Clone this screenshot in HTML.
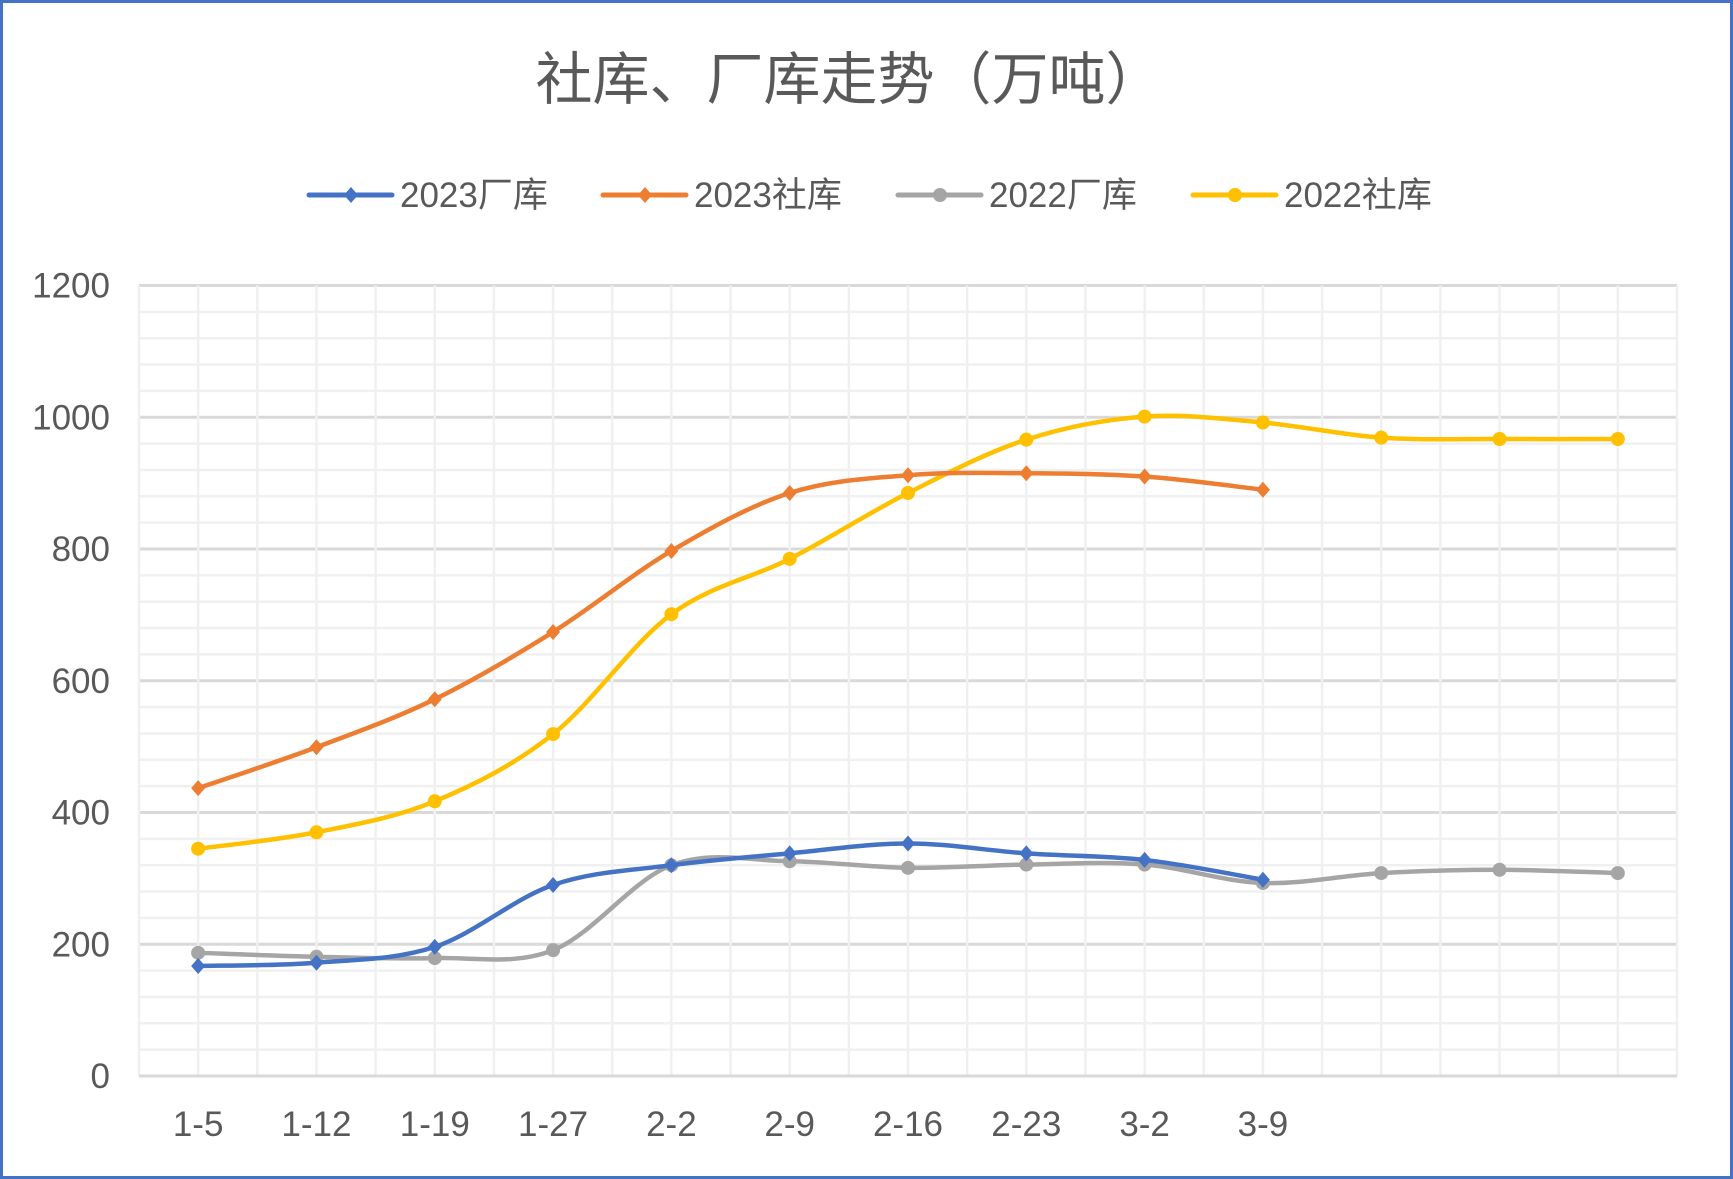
<!DOCTYPE html>
<html><head><meta charset="utf-8"><style>
html,body{margin:0;padding:0;background:#fff;}
svg{display:block;}
text{font-family:"Liberation Sans","Noto Sans CJK SC",sans-serif;fill:#595959;}
</style></head><body>
<svg id="chart" width="1733" height="1179" viewBox="0 0 1733 1179">
<rect x="1.5" y="1.5" width="1730" height="1176" fill="#fff" stroke="#4472C4" stroke-width="3"/>
<text x="849" y="99" font-size="57" text-anchor="middle">社库、厂库走势（万吨）</text>
<g id="grid"></g>
<g id="yaxis"></g>
<g id="xaxis"></g>
<g id="series"></g>
<g id="legend"></g>
</svg>
<script>
const categories = ["1-5","1-12","1-19","1-27","2-2","2-9","2-16","2-23","3-2","3-9","","",""];
const yTicks = [0,200,400,600,800,1000,1200];
const seriesNames = ["2023厂库","2023社库","2022厂库","2022社库"];
const factory2023 = [167,172,196,290,320,338,353,338,328,298];
const social2023 = [437,499,572,674,797,885,912,915,910,890];
const factory2022 = [187,181,179,191,320,326,316,321,321,293,308,313,308];
const social2022 = [345,370,417,519,701,785,885,966,1001,992,969,967,967];

const NS="http://www.w3.org/2000/svg";
const L=139,R=1677,T=285.5,B=1076,YMAX=1200;
const step=(R-L)/categories.length;
function xs(i){return L+step*(i+0.5);}
function ys(v){return B-(v/YMAX)*(B-T);}
function mk(tag,attrs,parent){const e=document.createElementNS(NS,tag);for(const k in attrs)e.setAttribute(k,attrs[k]);parent.appendChild(e);return e;}

const grid=document.getElementById('grid');
for(let v=0;v<=YMAX;v+=40){
  const major=v%200===0;
  const ln=mk('line',{x1:L,x2:R,y1:ys(v),y2:ys(v),stroke:major?'#d9d9d9':'#f0f0f0','stroke-width':major?3:2.5},grid);
  
  
}
for(let i=0;i<=categories.length*2;i++){
  const x=L+step*i/2;
  const ln=mk('line',{x1:x,x2:x,y1:T,y2:B,stroke:'#f0f0f0','stroke-width':2.5},grid);
  
  
}
const ax=mk('line',{x1:L,x2:R,y1:B,y2:B,stroke:'#d9d9d9','stroke-width':3},grid);



const ya=document.getElementById('yaxis');
yTicks.forEach(v=>{
  const t=mk('text',{x:110,y:ys(v)+12,'font-size':35,'text-anchor':'end'},ya);
  t.textContent=v;
  
  
});
const xa=document.getElementById('xaxis');
categories.forEach((c,i)=>{
  if(!c)return;
  const t=mk('text',{x:xs(i),y:1136,'font-size':35,'text-anchor':'middle'},xa);
  t.textContent=c;
  
  
});

function smooth(vals){
  const p=vals.map((v,i)=>[xs(i),ys(v)]);
  let d=`M${p[0][0]},${p[0][1]}`;
  for(let i=0;i<p.length-1;i++){
    const p0=p[i-1]||p[i],p1=p[i],p2=p[i+1],p3=p[i+2]||p[i+1];
    const c1=[p1[0]+(p2[0]-p0[0])/6,p1[1]+(p2[1]-p0[1])/6];
    const c2=[p2[0]-(p3[0]-p1[0])/6,p2[1]-(p3[1]-p1[1])/6];
    d+=` C${c1[0]},${c1[1]} ${c2[0]},${c2[1]} ${p2[0]},${p2[1]}`;
  }
  return d;
}
function marker(g,x,y,color,diamond){
  let m;
  if(diamond){m=mk('path',{d:`M${x},${y-8} L${x+7},${y} L${x},${y+8} L${x-7},${y} Z`,fill:color},g);}
  else{m=mk('circle',{cx:x,cy:y,r:7,fill:color},g);}
  return m;
}
const colors=['#4472C4','#ED7D31','#A5A5A5','#FFC000'];
const diamonds=[true,true,false,false];
const allData=[factory2023,social2023,factory2022,social2022];
const sg=document.getElementById('series');
const order=[2,3,0,1];
order.forEach(k=>{
  const g=mk('g',{},sg);
  
  
  const pth=mk('path',{d:smooth(allData[k]),fill:'none',stroke:colors[k],'stroke-width':4.5,'stroke-linecap':'round'},g);
  
  
  allData[k].forEach((v,i)=>{
    const m=marker(g,xs(i),ys(v),colors[k],diamonds[k]);
    
    
  });
});

const lg=document.getElementById('legend');
const lx=[309,603,898,1193];
seriesNames.forEach((n,k)=>{
  const g=mk('g',{},lg);
  
  
  mk('line',{x1:lx[k],x2:lx[k]+83,y1:195,y2:195,stroke:colors[k],'stroke-width':5,'stroke-linecap':'round'},g);
  marker(g,lx[k]+42,195,colors[k],diamonds[k]);
  const t=mk('text',{x:lx[k]+91,y:207,'font-size':35},g);
  t.textContent=n;
  
  
});
</script>
</body></html>
